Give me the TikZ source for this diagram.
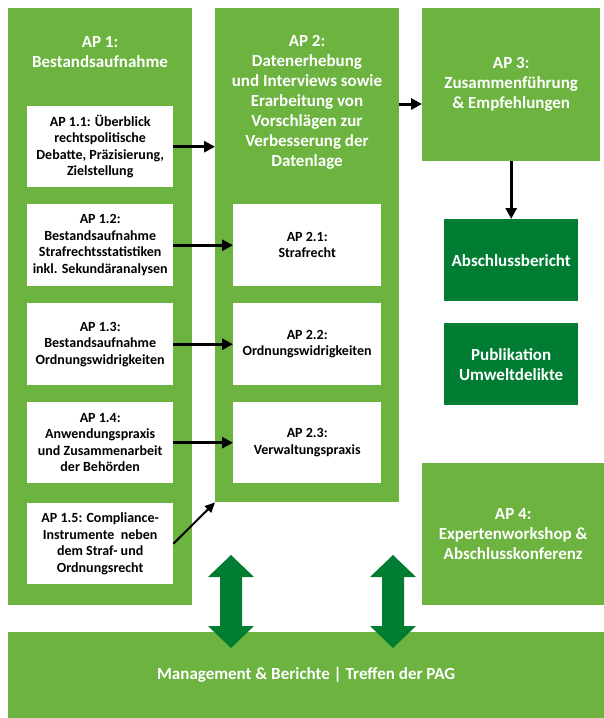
\documentclass[tikz,border=0pt]{standalone}
\usepackage{fontspec}
\setmainfont{Carlito}
\usetikzlibrary{arrows.meta}
\definecolor{apgreen}{RGB}{108,179,63}
\definecolor{apdark}{RGB}{0,125,50}
\tikzset{
  apbox/.style={fill=apgreen, anchor=north west, inner sep=0pt},
  aptitle/.style={text=white, font=\bfseries\fontsize{17}{20}\selectfont, align=center},
  resbox/.style={fill=apdark, anchor=north west, inner sep=0pt, text=white,
    font=\bfseries\fontsize{17}{20}\selectfont, align=center},
  subbox/.style={fill=white, anchor=north west, inner sep=0pt,
    font=\bfseries\fontsize{14}{16.5}\selectfont, align=center},
  flow/.style={line width=3pt, -{Triangle[length=11pt,width=11pt]}},
}
\begin{document}
\begin{tikzpicture}[x=1pt,y=-1pt]
\useasboundingbox (0,0) rectangle (604,718);
% Work packages
\node[apbox, minimum width=184pt, minimum height=597pt] (ap1) at (8,8) {};
\node[aptitle] (ap1t) at (100,52) {AP 1:\\Bestandsaufnahme};
\node[apbox, minimum width=184pt, minimum height=494pt] (ap2) at (215,8) {};
\node[aptitle] (ap2t) at (307,102) {AP 2:\\Datenerhebung\\und Interviews sowie\\Erarbeitung von\\Vorschlägen zur\\Verbesserung der\\Datenlage};
\node[apbox, aptitle, minimum width=178pt, minimum height=153pt] (ap3) at (422,8) {AP 3:\\Zusammenführung\\\& Empfehlungen};
\node[apbox, aptitle, minimum width=182pt, minimum height=142pt] (ap4) at (422,463) {AP 4:\\Expertenworkshop \&\\Abschlusskonferenz};
\node[apbox, aptitle, minimum width=596pt, minimum height=86pt] (pm) at (8,632) {Management \& Berichte | Treffen der PAG};
% Results
\node[resbox, minimum width=134pt, minimum height=82pt] (bericht) at (444,219) {Abschlussbericht};
\node[resbox, minimum width=134pt, minimum height=82pt] (publ) at (444,323) {Publikation\\Umweltdelikte};
% Sub-packages of AP 1
\node[subbox, minimum width=146pt, minimum height=81pt] (ap11) at (27,106) {AP 1.1: Überblick\\rechtspolitische\\Debatte, Präzisierung,\\Zielstellung};
\node[subbox, minimum width=146pt, minimum height=82pt] (ap12) at (27,204) {AP 1.2:\\Bestandsaufnahme\\Strafrechtsstatistiken\\inkl. Sekundäranalysen};
\node[subbox, minimum width=146pt, minimum height=82pt] (ap13) at (27,303) {AP 1.3:\\Bestandsaufnahme\\Ordnungswidrigkeiten};
\node[subbox, minimum width=146pt, minimum height=81pt] (ap14) at (27,402) {AP 1.4:\\Anwendungspraxis\\und Zusammenarbeit\\der Behörden};
\node[subbox, minimum width=146pt, minimum height=81pt] (ap15) at (27,503) {AP 1.5: Compliance-\\Instrumente\ \ neben\\dem Straf- und\\Ordnungsrecht};
% Sub-packages of AP 2
\node[subbox, minimum width=148pt, minimum height=82pt] (ap21) at (233,204) {AP 2.1:\\Strafrecht};
\node[subbox, minimum width=148pt, minimum height=82pt] (ap22) at (233,303) {AP 2.2:\\Ordnungswidrigkeiten};
\node[subbox, minimum width=148pt, minimum height=81pt] (ap23) at (233,402) {AP 2.3:\\Verwaltungspraxis};
% Flow between packages
\coordinate (y3) at (0,104);
\draw[flow] (ap11.east) -- (ap11.east -| ap2.west);
\draw[flow] (ap12) -- (ap21);
\draw[flow] (ap13) -- (ap22);
\draw[flow] (ap14) -- (ap23);
\draw[flow, line width=2pt, -{Triangle[length=10pt,width=9pt]}] (ap15.east) -- (ap2.south west);
\draw[flow] (ap2.east |- y3) -- (ap3.west |- y3);
\draw[flow] (ap3.south) -- (bericht.north);
% Exchange with management
\foreach \x in {231,393}
  \fill[apdark] (\x-11,577) -- (\x-23,577) -- (\x,555) -- (\x+23,577) -- (\x+11,577)
    -- (\x+11,626) -- (\x+23,626) -- (\x,648) -- (\x-23,626) -- (\x-11,626) -- cycle;
\end{tikzpicture}
\end{document}
